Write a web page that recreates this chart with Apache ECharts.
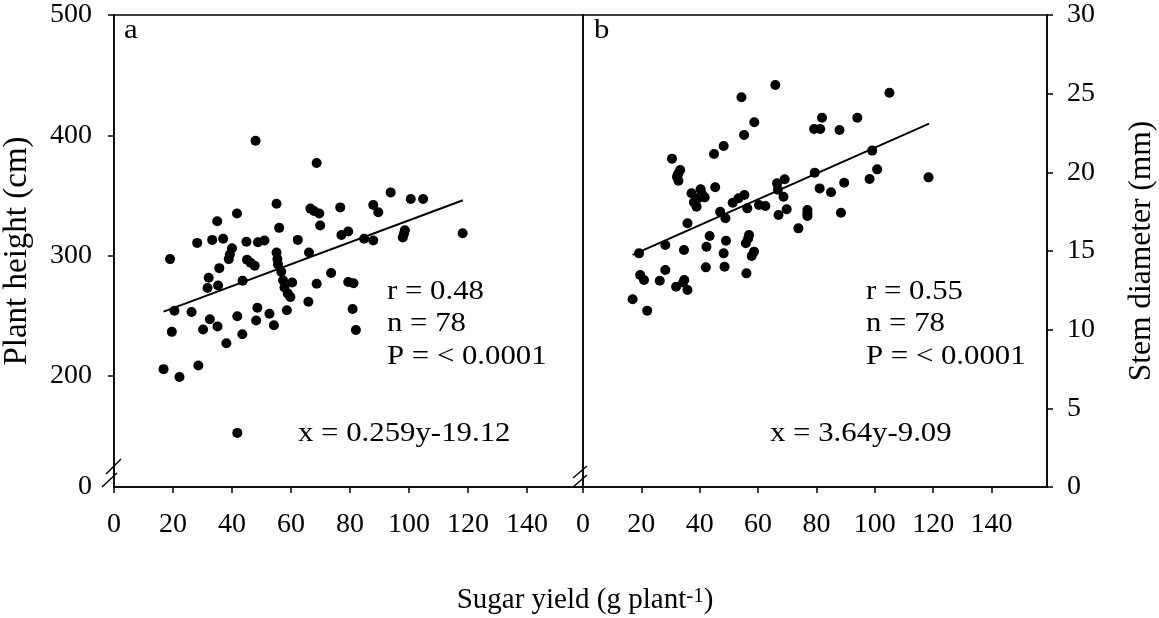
<!DOCTYPE html>
<html><head><meta charset="utf-8">
<script src="https://cdn.jsdelivr.net/npm/echarts@6/dist/echarts.min.js"></script>
<style>html,body{margin:0;padding:0;background:#fff}#c{width:1159px;height:618px}</style>
</head><body><div id="c"></div>
<script>
// ---- data ----
const xTicks = [0, 20, 40, 60, 80, 100, 120, 140];
const heightTicks = [200, 300, 400, 500];
const heightBreak = 107.5;          // bottom of the broken axis, labelled "0"
const diamTicks = [0, 5, 10, 15, 20, 25, 30];

// panel a: sugar yield vs plant height
const sugarA = [48.0,68.7,93.8,100.6,104.8,55.1,41.7,66.6,69.6,76.7,87.9,89.6,35.0,56.0,69.9,77.1,79.4,98.6,97.9,118.2,
  28.2,33.3,37.0,44.9,48.8,51.0,62.3,84.8,87.9,19.0,40.0,38.9,55.1,66.1,45.1,47.7,35.7,55.6,56.7,73.6,
  32.1,43.6,60.4,68.7,79.4,81.2,35.3,31.7,57.8,58.9,59.8,65.9,20.5,26.3,32.5,30.2,35.1,41.8,48.6,52.7,
  48.2,54.2,58.6,19.6,43.5,38.1,80.9,82.0,16.8,22.2,28.6,41.8,39.3,46.3,55.4,57.3,67.8,98.3];
const heightA = [395.5,377,352.5,347,347,343,335,339,335,340,342,336,328.5,323,325,317,320,321,315,318.5,
  310.5,313,314,311.5,311,312.5,313,314,312.5,297,306,297,302.5,302.5,296.5,291.5,289.5,292.5,286.5,285.5,
  281.5,279,277.5,276.5,278,277,275,273,273.5,268.5,265.5,261.5,254,253,247,238.5,241,249.5,256.5,251.5,
  246,242,254.5,236.5,234.5,227,255.5,238,205.5,199,208.5,152.5,301,294,297,279.5,337,318];
const fitAx = [16.8, 118.3];
const fitAy = [253.3, 346.0];

// panel b: sugar yield vs stem diameter
const sugarB = [65.9,54.3,105.0,58.7,55.2,81.9,94.0,79.2,81.3,87.9,48.2,44.9,30.5,99.1,100.8,98.2,118.4,33.3,32.2,32.7,
  45.3,66.5,69.1,79.4,81.1,85.0,89.5,68.7,37.2,40.3,39.5,41.7,38.9,51.3,53.3,55.3,56.3,60.3,62.5,47.0,
  48.8,67.0,69.8,76.9,76.9,88.4,35.8,73.8,19.2,28.2,34.6,43.4,42.3,49.0,48.2,56.9,55.8,58.6,57.8,19.6,
  20.9,28.2,26.3,31.9,34.7,35.8,42.1,48.5,56.0,17.0,22.0,38.0,40.8,66.8,56.6,34.3,76.9,32.6];
const diamB = [25.55,24.77,25.06,23.18,22.37,23.47,23.47,22.75,22.75,22.69,21.67,21.17,20.87,21.38,20.19,19.58,19.68,20.15,19.72,19.47,
  19.05,19.30,19.56,19.98,18.98,18.73,19.34,18.45,18.67,18.92,18.35,18.41,17.82,18.07,18.35,18.56,17.71,17.92,17.86,17.50,
  17.08,17.29,17.65,17.61,17.22,17.43,16.76,16.44,14.85,15.38,15.06,15.95,15.27,15.65,14.85,16.02,15.49,14.96,14.68,13.47,
  13.16,13.79,13.11,12.73,13.16,12.52,13.96,14.0,13.58,11.93,11.21,18.1,18.6,18.9,15.8,13.0,17.4,19.9];
const fitBx = [17.0, 118.6];
const fitBy = [14.75, 23.1];

// ---- chart ----
const FF = "'Liberation Serif','Times New Roman',serif";
const BLACK = '#000';
const zip = (a, b) => a.map((v, i) => [v, b[i]]);
const lineStyle = { color: BLACK, width: 1.5 };

function xAxisFor(gi) {
  return {
    type: 'value', gridIndex: gi, min: 0, max: 159,
    axisLine: { show: true, onZero: false, lineStyle },
    axisTick: { show: true, customValues: xTicks, length: 6, lineStyle },
    axisLabel: { customValues: xTicks, margin: 24, color: BLACK, fontFamily: FF, fontSize: 28 },
    splitLine: { show: false }
  };
}
function note(text, x, y) {
  return { type: 'text', x, y, scaleX: 1.1, style: { text, font: '28px ' + FF, fill: BLACK, verticalAlign: 'middle' } };
}

const chart = echarts.init(document.getElementById('c'), null, { renderer: 'canvas' });
chart.setOption({
  animation: false,
  backgroundColor: '#fff',
  grid: [
    { left: 112, top: 15, width: 471, height: 472, show: true, borderColor: BLACK, borderWidth: 1.5, backgroundColor: 'transparent' },
    { left: 583, top: 15, width: 471, height: 472, show: true, borderColor: BLACK, borderWidth: 1.5, backgroundColor: 'transparent' }
  ],
  xAxis: [xAxisFor(0), xAxisFor(1)],
  yAxis: [
    {
      type: 'value', gridIndex: 0, min: heightBreak, max: 500,
      axisLine: { show: true, onZero: false, lineStyle },
      axisTick: { show: true, customValues: heightTicks, length: 6, lineStyle },
      axisLabel: { customValues: [heightBreak].concat(heightTicks), margin: 22, color: BLACK, fontFamily: FF, fontSize: 28,
        formatter: v => (v === heightBreak ? '0' : String(v)) },
      splitLine: { show: false },
      name: 'Plant height (cm)', nameLocation: 'middle', nameGap: 80, nameRotate: 90,
      nameTextStyle: { color: BLACK, fontFamily: FF, fontSize: 33 }
    },
    {
      type: 'value', gridIndex: 1, position: 'right', min: 0, max: 30, interval: 5,
      axisLine: { show: true, onZero: false, lineStyle },
      axisTick: { show: true, customValues: diamTicks, length: 6, lineStyle },
      axisLabel: { customValues: diamTicks, margin: 20, color: BLACK, fontFamily: FF, fontSize: 28 },
      splitLine: { show: false },
      name: 'Stem diameter (mm)', nameLocation: 'middle', nameGap: 79, nameRotate: 90,
      nameTextStyle: { color: BLACK, fontFamily: FF, fontSize: 31.5 }
    }
  ],
  series: [
    { type: 'scatter', xAxisIndex: 0, yAxisIndex: 0, data: zip(sugarA, heightA), symbol: 'circle', symbolSize: 10,
      itemStyle: { color: BLACK, opacity: 1 }, z: 3 },
    { type: 'line', xAxisIndex: 0, yAxisIndex: 0, data: zip(fitAx, fitAy), showSymbol: false, symbol: 'none',
      lineStyle: { color: BLACK, width: 2 }, z: 4 },
    { type: 'scatter', xAxisIndex: 1, yAxisIndex: 1, data: zip(sugarB, diamB), symbol: 'circle', symbolSize: 10,
      itemStyle: { color: BLACK, opacity: 1 }, z: 3 },
    { type: 'line', xAxisIndex: 1, yAxisIndex: 1, data: zip(fitBx, fitBy), showSymbol: false, symbol: 'none',
      lineStyle: { color: BLACK, width: 2 }, z: 4 }
  ],
  graphic: [
    note('a', 124, 31),
    note('b', 594, 31),
    note('r = 0.48', 387, 292),
    note('n = 78', 387, 324),
    note('P = < 0.0001', 387, 357),
    note('x = 0.259y-19.12', 298, 434),
    note('r = 0.55', 866, 292),
    note('n = 78', 866, 324),
    note('P = < 0.0001', 866, 357),
    note('x = 3.64y-9.09', 770, 434),
    { type: 'text', x: 585, y: 600, style: {
        text: 'Sugar yield (g plant{s|-1})', font: '29px ' + FF, fill: BLACK, align: 'center', verticalAlign: 'middle',
        rich: { s: { fontSize: 21, fontFamily: FF, fill: BLACK, verticalAlign: 'top' } } } },
    // axis break marks
    { type: 'line', shape: { x1: 102, y1: 487, x2: 117, y2: 473 }, style: { stroke: BLACK, lineWidth: 1.5 } },
    { type: 'line', shape: { x1: 106, y1: 474, x2: 121, y2: 459 }, style: { stroke: BLACK, lineWidth: 1.5 } },
    { type: 'line', shape: { x1: 573, y1: 487, x2: 587, y2: 475 }, style: { stroke: BLACK, lineWidth: 1.5 } },
    { type: 'line', shape: { x1: 573, y1: 478, x2: 587, y2: 466 }, style: { stroke: BLACK, lineWidth: 1.5 } }
  ]
});
</script>
</body></html>
